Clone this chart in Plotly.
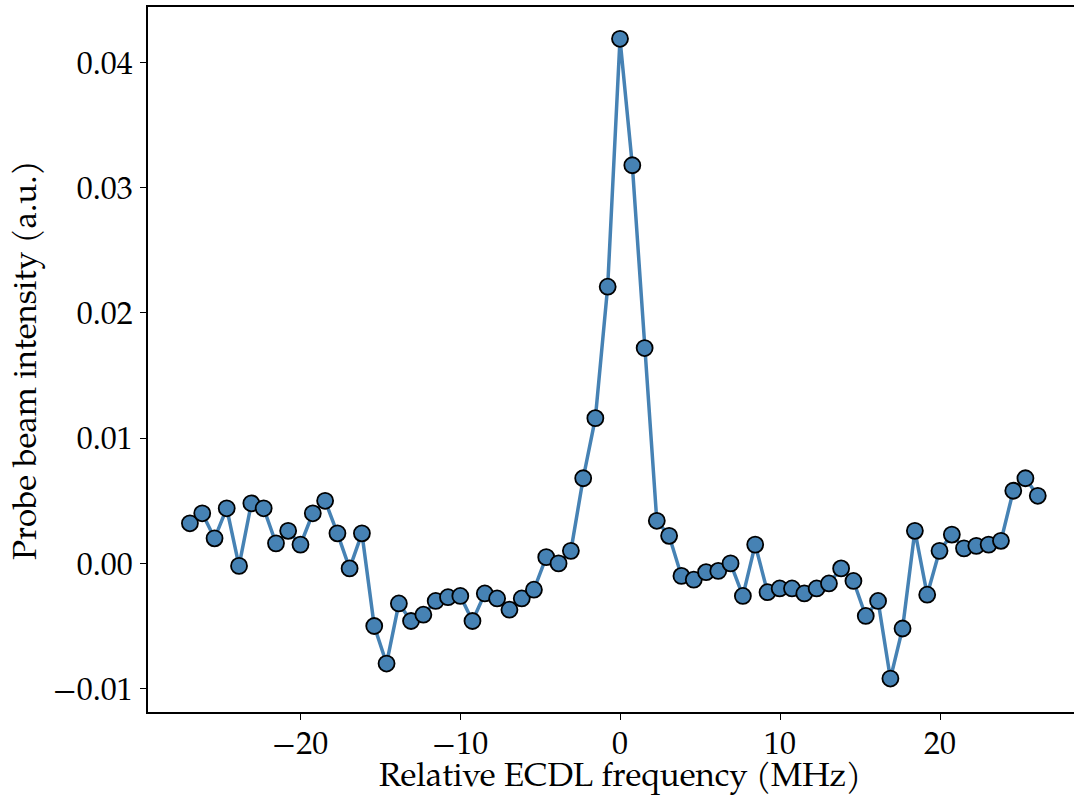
import plotly.graph_objects as go

freq_mhz = [
    -26.88, -26.11, -25.34, -24.58, -23.81, -23.04, -22.27, -21.50, -20.74, -19.97,
    -19.20, -18.43, -17.66, -16.90, -16.13, -15.36, -14.59, -13.82, -13.06, -12.29,
    -11.52, -10.75, -9.98, -9.22, -8.45, -7.68, -6.91, -6.14, -5.38, -4.61,
    -3.84, -3.07, -2.30, -1.54, -0.77, 0.00, 0.77, 1.54, 2.30, 3.07,
    3.84, 4.61, 5.38, 6.14, 6.91, 7.68, 8.45, 9.22, 9.98, 10.75,
    11.52, 12.29, 13.06, 13.82, 14.59, 15.36, 16.13, 16.90, 17.66, 18.43,
    19.20, 19.97, 20.74, 21.50, 22.27, 23.04, 23.81, 24.58, 25.34, 26.11,
]

intensity = [
    0.0032, 0.0040, 0.0020, 0.0044, -0.0002, 0.0048, 0.0044, 0.0016, 0.0026, 0.0015,
    0.0040, 0.0050, 0.0024, -0.0004, 0.0024, -0.0050, -0.0080, -0.0032, -0.0046, -0.0041,
    -0.0030, -0.0027, -0.0026, -0.0046, -0.0024, -0.0028, -0.0037, -0.0028, -0.0021, 0.0005,
    0.0000, 0.0010, 0.0068, 0.0116, 0.0221, 0.0419, 0.0318, 0.0172, 0.0034, 0.0022,
    -0.0010, -0.0013, -0.0007, -0.0006, 0.0000, -0.0026, 0.0015, -0.0023, -0.0020, -0.0020,
    -0.0024, -0.0020, -0.0016, -0.0004, -0.0014, -0.0042, -0.0030, -0.0092, -0.0052, 0.0026,
    -0.0025, 0.0010, 0.0023, 0.0012, 0.0014, 0.0015, 0.0018, 0.0058, 0.0068, 0.0054,
]

x_ticks = [-20, -10, 0, 10, 20]
x_tick_labels = ["\u221220", "\u221210", "0", "10", "20"]
y_ticks = [-0.01, 0.00, 0.01, 0.02, 0.03, 0.04]
y_tick_labels = ["\u22120.01", "0.00", "0.01", "0.02", "0.03", "0.04"]

x_title = "Relative ECDL frequency (MHz)"
y_title = "Probe beam intensity (a.u.)"

FONT = "Palatino Linotype, TeX Gyre Pagella, Palatino, Liberation Serif, serif"

W, H = 1074, 800
ML, MR, MT, MB = 148, 0, 7, 88
PW, PH = W - ML - MR, H - MT - MB

fig = go.Figure()
fig.add_trace(go.Scatter(
    x=freq_mhz, y=intensity, mode="lines+markers",
    line=dict(color="#4682B4", width=3.5),
    marker=dict(size=16, color="#4682B4", line=dict(color="black", width=1.8)),
    showlegend=False,
))

fig.update_layout(
    width=W, height=H,
    margin=dict(l=ML, r=MR, t=MT, b=MB, autoexpand=False),
    paper_bgcolor="white", plot_bgcolor="white",
    font=dict(family=FONT, size=32, color="black"),
    annotations=[
        dict(text=x_title, xref="paper", yref="paper",
             x=(620 - ML) / PW, y=-(778 - (MT + PH)) / PH,
             xanchor="center", yanchor="middle", showarrow=False,
             font=dict(size=33)),
        dict(text=y_title, xref="paper", yref="paper",
             x=-(ML - 28) / PW, y=(MT + PH - 360) / PH,
             xanchor="center", yanchor="middle", showarrow=False,
             textangle=-90, font=dict(size=33)),
    ],
)
fig.update_xaxes(
    range=[-29.5, 28.375], tickvals=x_ticks, ticktext=x_tick_labels,
    showgrid=False, zeroline=False, showline=True, linecolor="black", linewidth=1.5,
    mirror=True, ticks="outside", ticklen=6, tickwidth=1.2, tickcolor="black",
    ticklabelstandoff=-4, automargin=False,
)
fig.update_yaxes(
    range=[-0.01187, 0.04444], tickvals=y_ticks, ticktext=y_tick_labels,
    showgrid=False, zeroline=False, showline=True, linecolor="black", linewidth=1.5,
    mirror=False, ticks="outside", ticklen=6, tickwidth=1.2, tickcolor="black",
    ticklabelstandoff=1, automargin=False,
)

fig.write_html("out.html", config={"displayModeBar": False},
               post_script="document.body.style.margin='0';")
